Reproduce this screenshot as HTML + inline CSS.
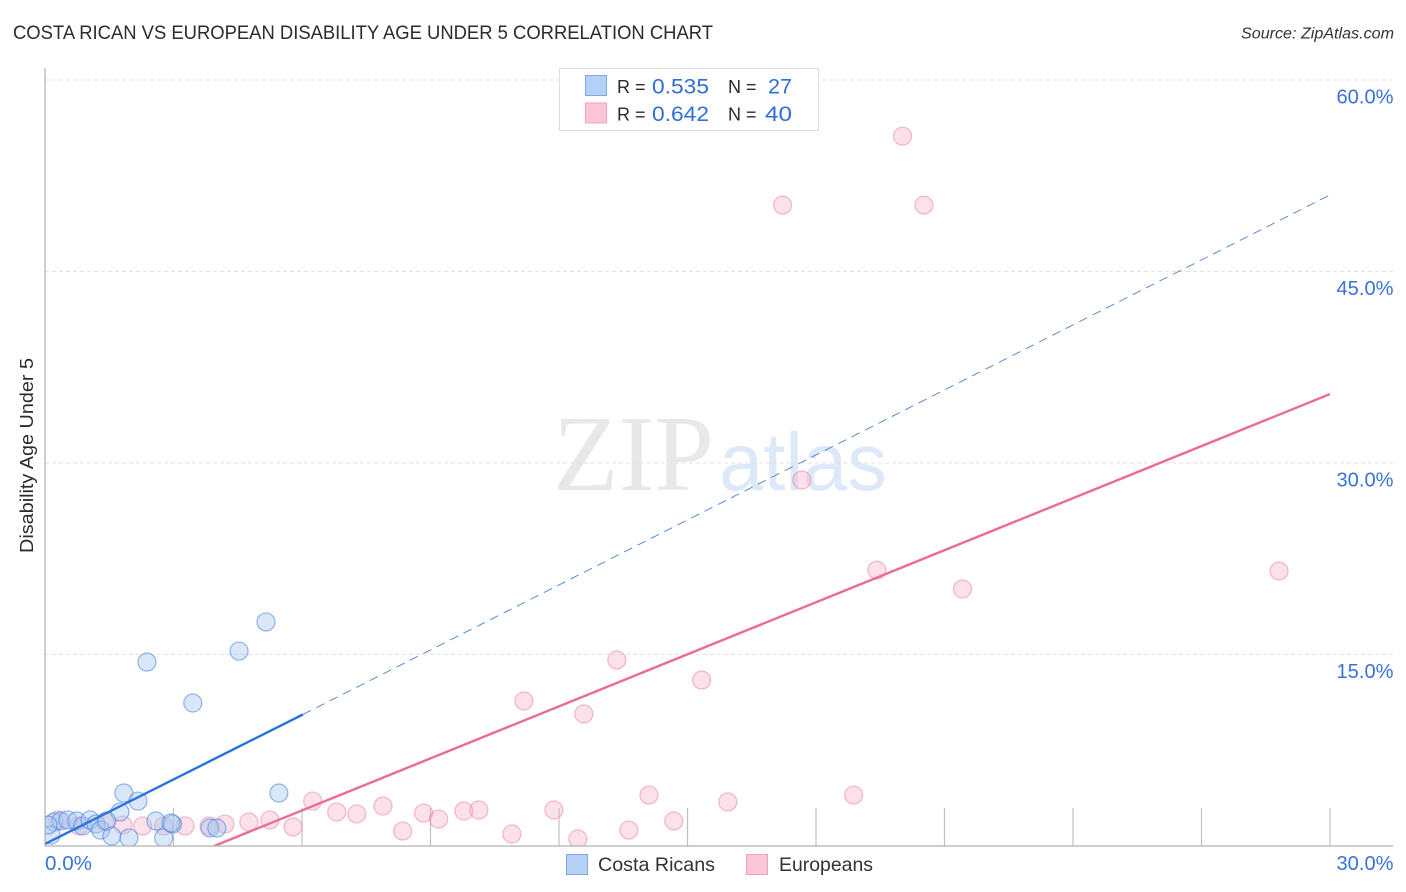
<!DOCTYPE html>
<html lang="en">
<head>
<meta charset="utf-8">
<title>Costa Rican vs European Disability Age Under 5 Correlation Chart</title>
<style>
  html, body { margin: 0; padding: 0; background: #fff; }
  svg { display: block; font-family: "Liberation Sans", sans-serif; }
</style>
</head>
<body>
<svg id="chart" width="1406" height="892" viewBox="0 0 1406 892" xmlns="http://www.w3.org/2000/svg">
  <defs>
    <clipPath id="plot-clip"><rect x="45" y="68" width="1348" height="778"></rect></clipPath>
  </defs>
  <text x="13" y="39" font-size="19" fill="#2b2b2b" textLength="700" lengthAdjust="spacingAndGlyphs">COSTA RICAN VS EUROPEAN DISABILITY AGE UNDER 5 CORRELATION CHART</text>
  <text x="1394" y="38.5" font-size="15.5" font-style="italic" fill="#333" text-anchor="end" textLength="153" lengthAdjust="spacingAndGlyphs">Source: ZipAtlas.com</text>

  <g>
    <text x="553" y="490" font-family="'Liberation Serif', serif" font-size="108" fill="#e8e8e8" textLength="161" lengthAdjust="spacingAndGlyphs">ZIP</text>
    <text x="719" y="490" font-size="82" fill="#dde8f8" textLength="168" lengthAdjust="spacingAndGlyphs">atlas</text>
  </g>

  <g id="grid"></g>
  <g id="ticks"></g>
  <g id="series" clip-path="url(#plot-clip)"></g>
  <g id="trend" clip-path="url(#plot-clip)"></g>

  <line x1="45" y1="68" x2="45" y2="846" stroke="#b0b0b0" stroke-width="1.2"></line>
  <line x1="45" y1="846" x2="1393" y2="846" stroke="#b0b0b0" stroke-width="1.2"></line>
  <g id="labels"></g>
  <text transform="translate(33,455.5) rotate(-90)" font-size="18" fill="#2b2b2b" text-anchor="middle" textLength="195" lengthAdjust="spacingAndGlyphs">Disability Age Under 5</text>

  <g>
    <rect x="559.5" y="68.5" width="259" height="62" fill="#fff" stroke="#ddd" stroke-width="1"></rect>
    <rect x="585.5" y="75.5" width="21" height="20" fill="#b5d2f6" stroke="#7fa9e0"></rect>
    <rect x="585.5" y="103" width="21" height="20" fill="#fcc6d8" stroke="#eea0bb"></rect>
    <text x="617" y="93" font-size="18" fill="#2b2b2b">R =</text>
    <text x="652" y="93.5" font-size="21" fill="#2f6fd6" textLength="57" lengthAdjust="spacingAndGlyphs">0.535</text>
    <text x="728" y="93" font-size="18" fill="#2b2b2b">N =</text>
    <text x="768" y="93.5" font-size="21" fill="#2f6fd6" textLength="24" lengthAdjust="spacingAndGlyphs">27</text>
    <text x="617" y="120.5" font-size="18" fill="#2b2b2b">R =</text>
    <text x="652" y="121" font-size="21" fill="#2f6fd6" textLength="57" lengthAdjust="spacingAndGlyphs">0.642</text>
    <text x="728" y="120.5" font-size="18" fill="#2b2b2b">N =</text>
    <text x="765" y="121" font-size="21" fill="#2f6fd6" textLength="27" lengthAdjust="spacingAndGlyphs">40</text>
  </g>

  <g>
    <rect x="566.5" y="854.5" width="21" height="20" fill="#b5d2f6" stroke="#7fa9e0"></rect>
    <text x="598" y="871" font-size="19.5" fill="#333" textLength="117" lengthAdjust="spacingAndGlyphs">Costa Ricans</text>
    <rect x="746.5" y="854.5" width="21" height="20" fill="#fcc6d8" stroke="#eea0bb"></rect>
    <text x="779" y="871" font-size="19.5" fill="#333" textLength="94" lengthAdjust="spacingAndGlyphs">Europeans</text>
  </g>
</svg>
<script>
const yTicks = [15, 30, 45, 60];
const yTickLabels = ['15.0%', '30.0%', '45.0%', '60.0%'];
const xTicks = [3, 6, 9, 12, 15, 18, 21, 24, 27, 30];
const xEndLabels = ['0.0%', '30.0%'];
const xEndValues = [0, 30];

const costaRicanX = [5.16, 4.53, 2.38, 3.45, 5.46, 1.84, 2.17, 1.75, 0.21, 0.37, 0.53, 0.74, 0.88, 1.05, 1.19, 1.3, 1.44, 1.56, 1.96, 2.59, 2.77, 2.98, 3.85, 4.01, 0.14, 0.07, 2.94];
const costaRicanY = [17.55, 15.27, 14.41, 11.2, 4.15, 4.15, 3.52, 2.66, 1.88, 1.96, 2.04, 1.96, 1.57, 2.04, 1.72, 1.25, 1.96, 0.78, 0.63, 1.96, 0.63, 1.72, 1.41, 1.41, 0.86, 1.64, 1.8];
const europeanX = [20.02, 17.22, 20.52, 17.67, 19.42, 28.81, 21.42, 13.35, 15.33, 11.18, 12.58, 14.1, 18.88, 15.94, 6.25, 6.81, 7.28, 7.89, 8.84, 9.19, 9.78, 10.13, 11.88, 14.68, 13.63, 8.35, 10.9, 12.44, 5.79, 5.25, 4.76, 4.2, 3.83, 3.27, 2.77, 2.28, 1.82, 1.4, 0.79, 0.3];
const europeanY = [55.6, 50.2, 50.2, 28.67, 21.6, 21.54, 20.13, 14.57, 13.0, 11.36, 10.34, 3.99, 3.99, 3.45, 3.52, 2.66, 2.51, 3.13, 2.58, 2.11, 2.74, 2.82, 2.82, 1.96, 1.25, 1.17, 0.94, 0.55, 1.49, 2.04, 1.88, 1.72, 1.57, 1.57, 1.57, 1.57, 1.64, 1.88, 1.57, 2.04];

const costaRicanTrendX = [0, 6.02, 30];
const costaRicanTrendY = [0.16, 10.3, 51.0];
const europeanTrendX = [3.95, 30];
const europeanTrendY = [0, 35.4];

const NS = 'http://www.w3.org/2000/svg';
const xScale = v => 45 + v * 1285 / 30;
const yScale = v => 846 - v * 766 / 60;
const make = (parent, tag) => {
  const el = document.createElementNS(NS, tag);
  parent.appendChild(el);
  return el;
};

const gridG = document.getElementById('grid');
yTicks.forEach(v => {
  const l = make(gridG, 'line');
  
  
  l.setAttribute('x1', 45);
  l.setAttribute('x2', 1393);
  l.setAttribute('y1', yScale(v));
  l.setAttribute('y2', yScale(v));
  l.setAttribute('stroke', '#e2e2e2');
  l.setAttribute('stroke-width', 1);
  l.setAttribute('stroke-dasharray', '4 3');
});

const ticksG = document.getElementById('ticks');
xTicks.forEach(v => {
  const l = make(ticksG, 'line');
  
  
  l.setAttribute('x1', xScale(v));
  l.setAttribute('x2', xScale(v));
  l.setAttribute('y1', 808);
  l.setAttribute('y2', 846);
  l.setAttribute('stroke', '#c0c0c0');
  l.setAttribute('stroke-width', 1.2);
});

const labelsG = document.getElementById('labels');
yTicks.forEach((v, i) => {
  const t = make(labelsG, 'text');
  
  
  t.setAttribute('x', 1393.5);
  t.setAttribute('y', yScale(v) + 23.5);
  t.setAttribute('text-anchor', 'end');
  t.setAttribute('font-size', 20);
  t.setAttribute('fill', '#3b72d8');
  t.setAttribute('textLength', 57);
  t.setAttribute('lengthAdjust', 'spacingAndGlyphs');
  t.textContent = yTickLabels[i];
});
xEndValues.forEach((v, i) => {
  const t = make(labelsG, 'text');
  
  
  t.setAttribute('x', i === 0 ? xScale(v) : 1393.5);
  t.setAttribute('y', 870);
  t.setAttribute('text-anchor', i === 0 ? 'start' : 'end');
  t.setAttribute('font-size', 20);
  t.setAttribute('fill', '#3b72d8');
  t.setAttribute('textLength', i === 0 ? 47 : 57);
  t.setAttribute('lengthAdjust', 'spacingAndGlyphs');
  t.textContent = xEndLabels[i];
});

const seriesG = document.getElementById('series');
europeanX.forEach((v, i) => {
  const c = make(seriesG, 'circle');
  
  
  c.setAttribute('cx', xScale(v));
  c.setAttribute('cy', yScale(europeanY[i]));
  c.setAttribute('r', 9);
  c.setAttribute('fill', 'rgba(248,170,197,0.36)');
  c.setAttribute('stroke', 'rgba(232,120,160,0.5)');
  c.setAttribute('stroke-width', 1.2);
});
costaRicanX.forEach((v, i) => {
  const c = make(seriesG, 'circle');
  
  
  c.setAttribute('cx', xScale(v));
  c.setAttribute('cy', yScale(costaRicanY[i]));
  c.setAttribute('r', 9);
  c.setAttribute('fill', 'rgba(165,198,240,0.42)');
  c.setAttribute('stroke', 'rgba(60,125,220,0.55)');
  c.setAttribute('stroke-width', 1.2);
});

const trendG = document.getElementById('trend');
const blueSolid = make(trendG, 'line');


blueSolid.setAttribute('x1', xScale(costaRicanTrendX[0]));
blueSolid.setAttribute('y1', yScale(costaRicanTrendY[0]));
blueSolid.setAttribute('x2', xScale(costaRicanTrendX[1]));
blueSolid.setAttribute('y2', yScale(costaRicanTrendY[1]));
blueSolid.setAttribute('stroke', '#2a73db');
blueSolid.setAttribute('stroke-width', 2.4);

const blueDash = make(trendG, 'line');


blueDash.setAttribute('x1', xScale(costaRicanTrendX[1]));
blueDash.setAttribute('y1', yScale(costaRicanTrendY[1]));
blueDash.setAttribute('x2', xScale(costaRicanTrendX[2]));
blueDash.setAttribute('y2', yScale(costaRicanTrendY[2]));
blueDash.setAttribute('stroke', '#4a80d0');
blueDash.setAttribute('stroke-width', 0.9);
blueDash.setAttribute('stroke-dasharray', '9 6');

const pinkLine = make(trendG, 'line');


pinkLine.setAttribute('x1', xScale(europeanTrendX[0]));
pinkLine.setAttribute('y1', yScale(europeanTrendY[0]));
pinkLine.setAttribute('x2', xScale(europeanTrendX[1]));
pinkLine.setAttribute('y2', yScale(europeanTrendY[1]));
pinkLine.setAttribute('stroke', '#ea6a98');
pinkLine.setAttribute('stroke-width', 2.4);
</script>
</body>
</html>
